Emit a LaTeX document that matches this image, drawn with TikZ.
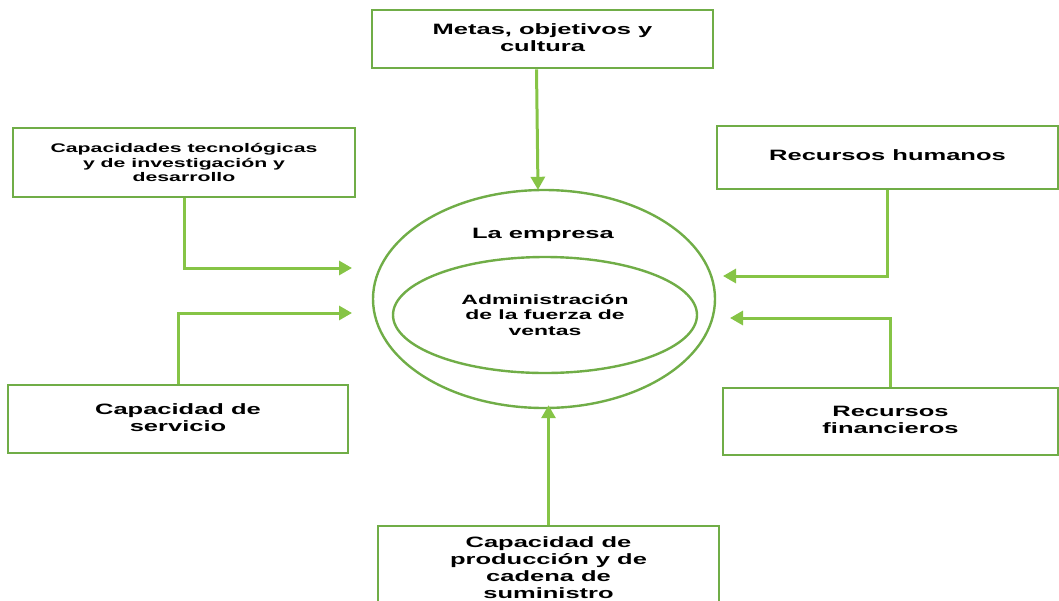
\documentclass[tikz,border=0pt]{standalone}
\usepackage{fontspec}
\setmainfont{Liberation Sans}[FakeStretch=1.7]
\usetikzlibrary{arrows.meta,shapes.geometric}
\definecolor{boxgreen}{RGB}{112,173,71}
\definecolor{arrgreen}{RGB}{134,196,70}
\tikzset{
  box/.style={draw=boxgreen, line width=2.8pt, rectangle, inner sep=0pt, align=center,
    font=\fontsize{15}{17}\selectfont\bfseries},
  smallbox/.style={box, font=\fontsize{12.5}{14.5}\selectfont\bfseries},
  ring/.style={draw=boxgreen, line width=2.4pt, ellipse, inner sep=0pt},
  lbl/.style={align=center, inner sep=0pt},
  arr/.style={draw=arrgreen, line width=3pt, -{Triangle[length=13pt,width=14pt]}}
}
\begin{document}
\begin{tikzpicture}[x=1pt,y=-1pt]
\useasboundingbox (0,0) rectangle (1059,600);
\clip (0,0) rectangle (1059,600);
% boxes
\node[box, minimum width=341pt, minimum height=58pt] (mt) at (542.5,39) {\raisebox{2pt}{Metas, objetivos y}\\\raisebox{2pt}{cultura}};
\node[smallbox, minimum width=342pt, minimum height=69pt] (cap) at (184,162.5) {Capacidades tecnológicas\\y de investigación y\\desarrollo};
\node[box, minimum width=341pt, minimum height=63pt] (rh) at (887.5,157.5) {\raisebox{4pt}{Recursos humanos}};
\node[box, minimum width=340pt, minimum height=68pt] (serv) at (178,419) {\raisebox{2pt}{Capacidad de}\\\raisebox{2pt}{servicio}};
\node[box, minimum width=335pt, minimum height=67pt] (rf) at (890.5,421.5) {\raisebox{3pt}{Recursos}\\\raisebox{3pt}{financieros}};
\node[box, minimum width=341pt, minimum height=84pt] (prod) at (548.5,568) {Capacidad de\\producción y de\\cadena de\\suministro};
% ellipses
\node[ring, minimum width=342pt, minimum height=218pt] (emp) at (544,299) {};
\node[lbl, font=\fontsize{15}{17}\selectfont\bfseries] (emplbl) at (543,235) {La empresa};
\node[ring, minimum width=304pt, minimum height=116pt, align=center,
  font=\fontsize{13.5}{15.5}\selectfont\bfseries] (adm) at (545,315) {Administración\\de la fuerza de\\ventas};
% free arrow ends
\coordinate (a1) at (352,268);
\coordinate (a2) at (352,313);
\coordinate (a3) at (723,276);
\coordinate (a4) at (730,318);
% connectors
\draw[arr] ([xshift=-6pt]mt.south) -- ([xshift=-6pt,yshift=-1pt]emp.north);
\draw[arr] (cap.south) |- (a1);
\draw[arr] (serv.north) |- (a2);
\draw[arr] (rh.south) |- (a3);
\draw[arr] (rf.north) |- (a4);
\draw[arr] (prod.north) -- ([yshift=4pt]prod.north |- emp.south);
\end{tikzpicture}
\end{document}
